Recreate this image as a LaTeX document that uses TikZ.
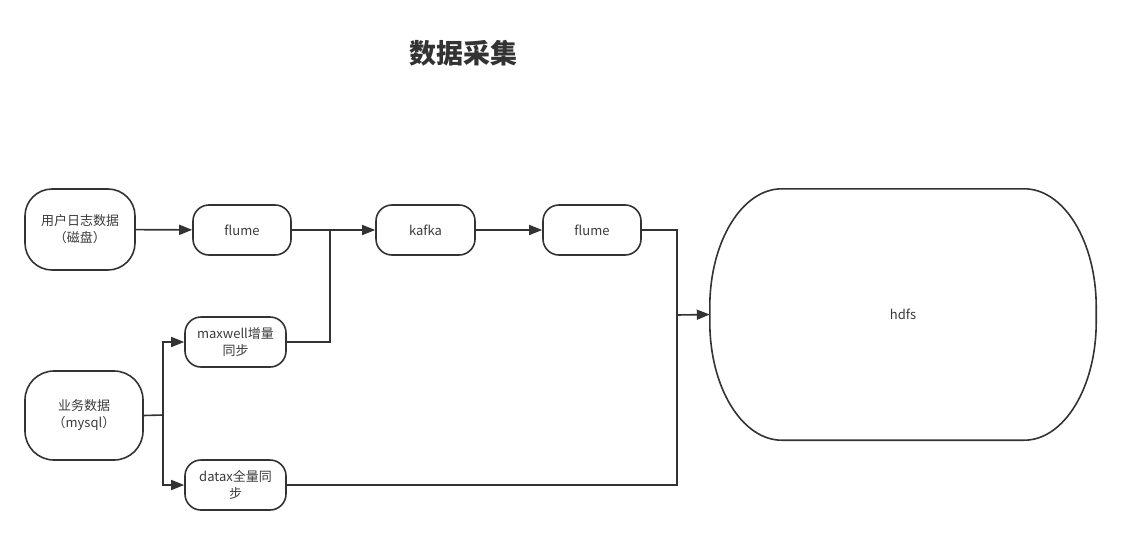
\documentclass[tikz,border=0pt]{standalone}
\usepackage{fontspec}
\setmainfont{Noto Sans CJK SC}
\usepackage{tikz}
\usetikzlibrary{calc,arrows.meta}
\definecolor{lineGray}{HTML}{333333}
\definecolor{textGray}{HTML}{3A3A3A}

\begin{document}
\begin{tikzpicture}[x=1pt,y=-1pt,
    box/.style={draw=lineGray, line width=1.6pt, rounded corners=16pt,
      text=textGray, align=center, inner sep=0pt,
      font=\fontsize{13}{17}\selectfont},
    flow/.style={draw=lineGray, line width=1.6pt,
      -{Triangle[length=13pt,width=10pt]}},
    wire/.style={draw=lineGray, line width=1.6pt}]
  \useasboundingbox (0,0) rectangle (1121,535);

  %% Title
  \node[text=lineGray, font=\fontsize{27}{30}\selectfont\bfseries] (TITLE) at (463,53) {数据采集};

  %% Sources
  \node[box, rounded corners=27pt, minimum width=110pt, minimum height=81pt] (LOG) at (80,229.5) {用户日志数据\\（磁盘）};
  \node[box, rounded corners=29pt, minimum width=118pt, minimum height=89pt] (DB) at (84,415.5) {业务数据\\（mysql）};

  %% Pipeline boxes
  \foreach \name/\cx/\cy/\w/\label in {FLUMEA/242/230/98/flume, KAFKA/425.5/230/99/kafka,
      FLUMEB/592/230/98/flume, MAXWELL/235.5/342/101/maxwell增量\\同步,
      DATAX/235.5/485/101/datax全量同\\步}
  {
    \node[box, minimum width=\w pt, minimum height=50pt] (\name) at (\cx,\cy) {\label};
  }

  %% Sink: hdfs with elliptic corners
  \node[minimum width=386pt, minimum height=251pt, text=textGray,
    font=\fontsize{13}{17}\selectfont] (HDFS) at (903,314.5) {hdfs};
  \draw[wire] ($(HDFS.north west)+(72,0)$) -- ($(HDFS.north east)-(72,0)$)
    arc[start angle=-90, end angle=0, x radius=72, y radius=118]
    -- ($(HDFS.south east)-(0,118)$)
    arc[start angle=0, end angle=90, x radius=72, y radius=118]
    -- ($(HDFS.south west)+(72,0)$)
    arc[start angle=90, end angle=180, x radius=72, y radius=118]
    -- ($(HDFS.north west)+(0,118)$)
    arc[start angle=180, end angle=270, x radius=72, y radius=118] -- cycle;

  %% Junction points
  \coordinate (JOINK) at (330,230);
  \coordinate (JOINH) at (677,315);
  \coordinate (SPLIT) at (163,415);

  %% Straight arrows
  \foreach \a/\b in {LOG/FLUMEA, FLUMEA/KAFKA, KAFKA/FLUMEB}
  {
    \draw[flow] (\a) -- (\b);
  }

  %% Merging and splitting lines
  \draw[wire] (MAXWELL.east) -| (JOINK);
  \draw[wire] (FLUMEB.east) -| (JOINH);
  \draw[wire] (DATAX.east) -| (JOINH);
  \draw[flow] (JOINH) -- (HDFS.west);
  \draw[wire] (DB.east) -- (SPLIT);
  \draw[flow] (SPLIT) |- (MAXWELL.west);
  \draw[flow] (SPLIT) |- (DATAX.west);

\end{tikzpicture}
\end{document}
